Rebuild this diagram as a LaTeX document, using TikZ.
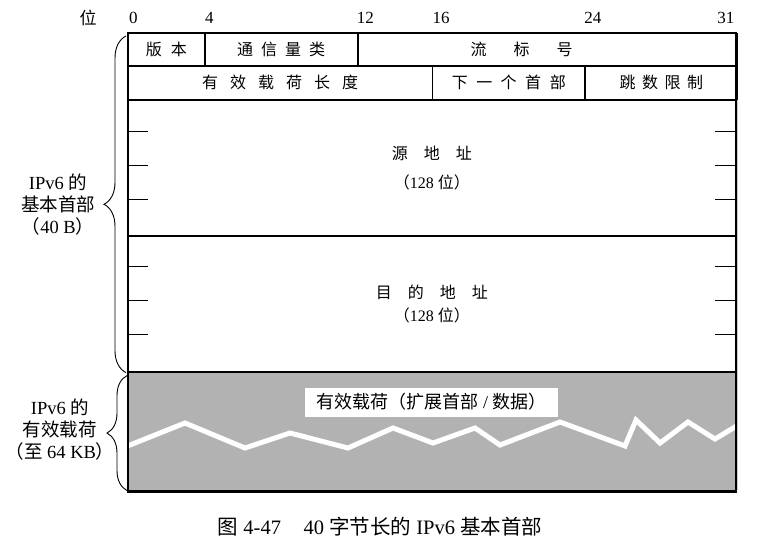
\documentclass[tikz,border=0pt]{standalone}
\usepackage{fontspec}
\setmainfont{Liberation Serif}
\newfontfamily\cjk{Noto Sans CJK SC}
\newcommand{\zh}[1]{{\cjk #1}}
\usepackage{tikz}
\usetikzlibrary{decorations.pathreplacing}
\definecolor{nutzgrau}{gray}{0.70}
\definecolor{schatten}{gray}{0.80}
\tikzset{
    %Define standard font
    font=\fontsize{16}{20}\selectfont,
    %Define style for header fields
    feld/.style={
           rectangle,
           draw=black, line width=0.9pt,
           fill=white,
           inner sep=0pt,
           anchor=north west},
    % Define style for bit numbers
    bitnr/.style={anchor=west, inner sep=0pt, font=\fontsize{17}{20}\selectfont},
    % Define style for side labels
    seite/.style={align=center, inner sep=0pt, font=\fontsize{18.5}{22}\selectfont},
    % Define style for outer frame
    rahmen/.style={draw=black, line width=2.2pt},
    % Define tick style
    strich/.style={line width=0.9pt},
    % Define brace style
    klammer/.style={decorate, decoration={brace, amplitude=#1}, line width=0.9pt},
    % Define style for the white line
    welle/.style={white, line width=5pt, line join=miter}
}

\begin{document}
\begin{tikzpicture}[x=1pt,y=-1pt]
  \useasboundingbox (0,0) rectangle (758,552);
  % shadow
  \fill[schatten] (131,36) rectangle (738,490);
  % bit numbers
  \node[font=\fontsize{17}{20}\selectfont] (wei) at (88,18) {\zh{位}};
  \foreach \b in {0,4,12,16,24,31}
    \node[bitnr] (b\b) at ({128+18.97*\b+1},18) {\b};
  % header fields
  \node[feld, minimum width=75.9pt,  minimum height=32pt] (ver)  at (128,33) {\zh{版\kern9pt 本}};
  \node[feld, minimum width=151.8pt, minimum height=32pt] (tc)   at (ver.north east) {\zh{通\kern8pt 信\kern8pt 量\kern8pt 类}};
  \node[feld, minimum width=379.3pt, minimum height=32pt] (flow) at (tc.north east) {};
  \node (flowtxt) at ([xshift=-26pt]flow.center) {\zh{流\kern27pt 标\kern27pt 号}};
  \node[feld, minimum width=303.5pt, minimum height=33pt] (plen) at (ver.south west) {\zh{有\kern12pt 效\kern12pt 载\kern12pt 荷\kern12pt 长\kern12pt 度}};
  \node[feld, minimum width=151.8pt, minimum height=33pt] (nxt)  at (plen.north east) {\zh{下\kern8.5pt 一\kern8.5pt 个\kern8.5pt 首\kern8.5pt 部}};
  \node[feld, minimum width=151.7pt, minimum height=33pt] (hop)  at (nxt.north east) {\zh{跳\kern6.5pt 数\kern6.5pt 限\kern6.5pt 制}};
  \node[feld, minimum width=607pt, minimum height=135pt, align=center, font=\fontsize{16}{29}\selectfont] (src) at (plen.south west)
      {\zh{源\kern16pt 地\kern16pt 址}\\\zh{（}128 \zh{位）}};
  \node[feld, minimum width=607pt, minimum height=135pt, align=center, font=\fontsize{16}{23}\selectfont] (dst) at (src.south west)
      {\zh{目\kern16pt 的\kern16pt 地\kern16pt 址}\\\zh{（}128 \zh{位）}};
  \node[feld, fill=nutzgrau, minimum width=607pt, minimum height=119pt] (pay) at (dst.south west) {};
  % ticks of the addresses
  \foreach \y in {131.75,165.5,199.25,266.75,300.5,334.25}
    \draw[strich] (128,\y) -- ++(20,0) (735,\y) -- ++(-20,0);
  % white line through the payload
  \begin{scope}
    \clip (pay.north west) rectangle (pay.south east);
    \draw[welle] (120,449) -- (185,423) -- (245,448) -- (290,433) -- (348,448) -- (393,428)
      -- (433,443) -- (475,428) -- (500,445) -- (560,422) -- (625,446) -- (636,420)
      -- (660,443) -- (688,422) -- (715,439) -- (745,421);
  \end{scope}
  \node[fill=white, minimum width=253pt, minimum height=29pt, inner sep=0pt, font=\fontsize{18}{20}\selectfont] (paytxt) at (431.5,402)
      {\zh{有效载荷（扩展首部} / \zh{数据）}};
  % outer frame
  \draw[rahmen] (ver.north west) rectangle (pay.south east);
  % braces
  \draw[klammer=22pt] ([xshift=-2pt,yshift=-1pt]dst.south west) -- ([xshift=-2pt,yshift=-3pt]ver.north west);
  \draw[klammer=20pt] ([xshift=-1pt,yshift=1pt]pay.south west) -- ([xshift=-1pt,yshift=-4pt]pay.north west);
  % side labels
  \node[seite] (basis) at (58,205) {IPv6 \zh{的}\\\zh{基本首部}\\\zh{（}40 B\zh{）}};
  \node[seite] (nutz)  at (60,430) {IPv6 \zh{的}\\\zh{有效载荷}\\\zh{（至} 64 KB\zh{）}};
  % caption
  \node[font=\fontsize{20.5}{22}\selectfont] (titel) at (380,527) {\zh{图} 4-47\hspace{1.1em}40 \zh{字节长的} IPv6 \zh{基本首部}};
\end{tikzpicture}
\end{document}
